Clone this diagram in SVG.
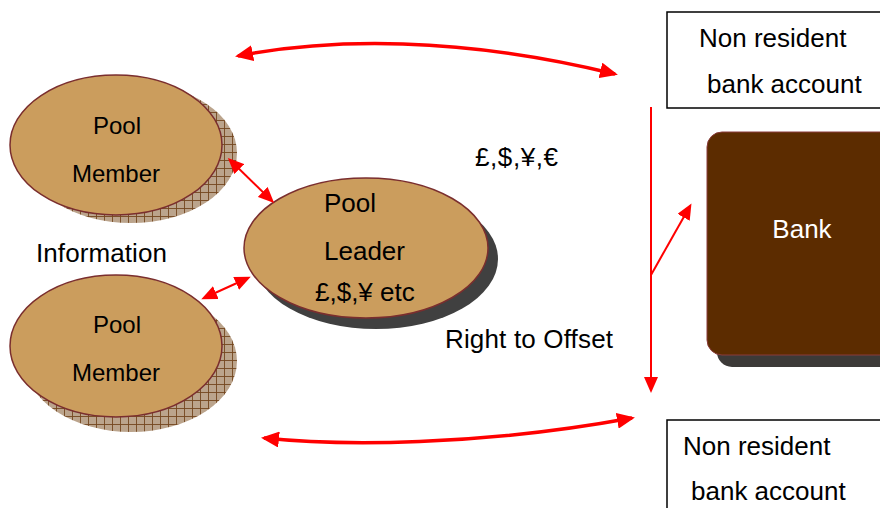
<svg xmlns="http://www.w3.org/2000/svg" width="880" height="508" viewBox="0 0 880 508">
<style>
text{font-family:"Liberation Sans",Arial,sans-serif;fill:#000}
.t26{font-size:26px}
.t23{font-size:24px}
.ell{fill:#CB9D5D;stroke:#7A2E2E;stroke-width:1.5}
.hatch{fill:url(#grid)}
.dshadow{fill:#404040}
.box{fill:#fff;stroke:#000;stroke-width:1.5}
.big{fill:none;stroke:#FF0000;stroke-width:3.5}
.thin{fill:none;stroke:#FF0000;stroke-width:2}
</style>
<defs>
<pattern id="grid" width="8" height="8" patternUnits="userSpaceOnUse">
<rect width="8" height="8" fill="#BBA48C"/>
<path d="M0 0.5H8M0.5 0V8" stroke="#74461F" stroke-width="0.9"/>
</pattern>
<marker id="ab" markerUnits="userSpaceOnUse" markerWidth="18" markerHeight="16" refX="15" refY="8" orient="auto-start-reverse">
<path d="M0 0L18 8L0 16z" fill="#FF0000"/>
</marker>
<marker id="as" markerUnits="userSpaceOnUse" markerWidth="16" markerHeight="14" refX="13" refY="7" orient="auto-start-reverse">
<path d="M0 0L16 7L0 14z" fill="#FF0000"/>
</marker>
</defs>
<rect width="880" height="508" fill="#fff"/>

<g id="member-top">
<ellipse class="hatch" cx="131" cy="153" rx="106" ry="70"/>
<ellipse class="ell" cx="116" cy="145" rx="106" ry="70"/>
<text class="t23" x="117" y="134" text-anchor="middle">Pool</text>
<text class="t23" x="116" y="182" text-anchor="middle">Member</text>
</g>

<g id="member-bottom">
<ellipse class="hatch" cx="131" cy="361" rx="106" ry="71"/>
<ellipse class="ell" cx="116" cy="346" rx="106" ry="71"/>
<text class="t23" x="117" y="333" text-anchor="middle">Pool</text>
<text class="t23" x="116" y="381" text-anchor="middle">Member</text>
</g>

<g id="leader">
<ellipse class="dshadow" cx="376" cy="259" rx="122" ry="70"/>
<ellipse class="ell" cx="366" cy="248" rx="122" ry="70"/>
<text class="t26" x="324" y="212">Pool</text>
<text class="t26" x="324" y="260">Leader</text>
<text class="t26" x="315" y="301">£,$,¥ etc</text>
</g>

<g id="account-top">
<rect class="box" x="667" y="12" width="230" height="96"/>
<text class="t26" x="699" y="47">Non resident</text>
<text class="t26" x="707" y="93">bank account</text>
</g>

<g id="account-bottom">
<rect class="box" x="667" y="420" width="230" height="110"/>
<text class="t26" x="683" y="455">Non resident</text>
<text class="t26" x="691" y="500">bank account</text>
</g>

<g id="bank">
<rect x="717" y="144" width="190" height="223" rx="15" fill="#3C3A38"/>
<rect x="707" y="132" width="190" height="223" rx="15" fill="#5C2C00" stroke="#8A3A3A" stroke-width="1"/>
<text class="t26" x="802" y="238" text-anchor="middle" style="fill:#fff">Bank</text>
</g>

<g id="labels">
<text class="t26" x="36" y="262" textLength="131">Information</text>
<text class="t26" x="445" y="348" textLength="168">Right to Offset</text>
<text class="t26" x="475" y="166" textLength="83">£,$,¥,€</text>
</g>

<g id="connectors">
<path class="big" d="M238 56 C330 38 460 36 615 74" marker-start="url(#ab)" marker-end="url(#ab)"/>
<path class="big" d="M264 438 C340 446 480 446 632 418" marker-start="url(#ab)" marker-end="url(#ab)"/>
<path class="thin" d="M230 160 L272 201" marker-start="url(#as)" marker-end="url(#as)"/>
<path class="thin" d="M204 298 L248 278" marker-start="url(#as)" marker-end="url(#as)"/>
<path class="thin" d="M651 107 L651 390" marker-end="url(#as)"/>
<path class="thin" d="M651 275 L690 206" marker-end="url(#as)"/>
</g>
</svg>
